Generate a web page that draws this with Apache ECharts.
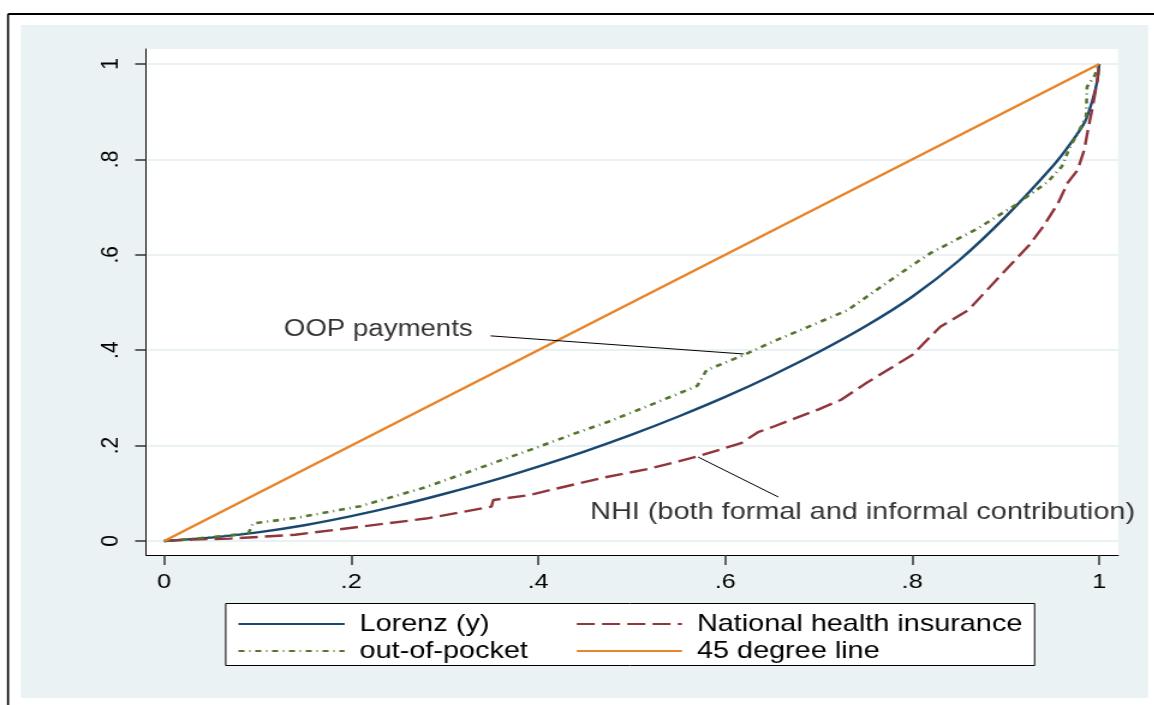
<!DOCTYPE html>
<html><head><meta charset="utf-8">
<script src="https://cdn.jsdelivr.net/npm/echarts@6/dist/echarts.min.js"></script>
<style>
html,body{margin:0;padding:0;background:#fff;overflow:hidden;}
#wrap{width:1154px;height:705px;overflow:hidden;position:relative;background:#fff;}
#chart{position:absolute;left:0;top:0;height:705px;transform-origin:0 0;}
</style></head><body>
<div id="wrap"><div id="chart"></div></div>
<script>
// ---- data ----
const xTicks = [0, 0.2, 0.4, 0.6, 0.8, 1];
const yTicks = [0, 0.2, 0.4, 0.6, 0.8, 1];
const seriesNames = ['Lorenz (y)', 'National health insurance', 'out-of-pocket', '45 degree line'];
const lorenzX = [0,0.05,0.1,0.15,0.2,0.25,0.3,0.35,0.4,0.45,0.5,0.55,0.6,0.65,0.7,0.75,0.8,0.85,0.9,0.95,0.97,0.985,0.993,0.998,1];
const lorenzY = [0,0.007,0.018,0.033,0.052,0.074,0.099,0.126,0.156,0.188,0.223,0.261,0.302,0.347,0.396,0.45,0.512,0.588,0.68,0.785,0.835,0.88,0.925,0.965,1];
const oopX = [0,0.03,0.06,0.09,0.095,0.14,0.21,0.28,0.35,0.40,0.44,0.475,0.525,0.57,0.58,0.62,0.65,0.69,0.73,0.8,0.82,0.87,0.91,0.945,0.96,0.968,0.979,0.986,0.987,0.995,1];
const oopY = [0,0.004,0.01,0.016,0.037,0.048,0.073,0.113,0.162,0.197,0.226,0.25,0.289,0.325,0.358,0.39,0.417,0.45,0.483,0.578,0.604,0.655,0.704,0.753,0.785,0.823,0.862,0.89,0.952,0.975,1];
const nhiX = [0,0.03,0.07,0.14,0.21,0.28,0.35,0.352,0.39,0.42,0.47,0.52,0.57,0.617,0.635,0.652,0.7,0.724,0.75,0.8,0.83,0.86,0.88,0.9,0.925,0.94,0.956,0.966,0.977,0.984,0.988,0.993,0.998,1];
const nhiY = [0,0.003,0.005,0.013,0.03,0.047,0.072,0.086,0.096,0.11,0.133,0.152,0.177,0.205,0.228,0.24,0.276,0.296,0.33,0.39,0.449,0.484,0.526,0.568,0.62,0.659,0.708,0.75,0.778,0.82,0.862,0.91,0.966,1];
const diagX = [0, 1];
const diagY = [0, 1];
const annotTexts = ['OOP payments', 'NHI (both formal and informal contribution)'];
const annotTextAt = [[0.229, 0.442], [0.747, 0.061]];
const annotLineFrom = [[0.349, 0.43], [0.571, 0.176]];
const annotLineTo = [[0.62, 0.392], [0.657, 0.092]];

// ---- rendering ----
const S = 1.2;              // horizontal stretch of the reference picture
const W = 1154 / S;
const el = document.getElementById('chart');
el.style.width = W + 'px';
el.style.transform = 'scaleX(' + S + ')';
const FONT = '"Liberation Sans", Arial, sans-serif';
const zip = (a, b) => a.map((v, i) => [v, b[i]]);
const fmt = v => (v === 0 ? '0' : v === 1 ? '1' : String(+v.toFixed(1)).replace(/^0/, ''));
const X = px => px / S;

const chart = echarts.init(el, null, { renderer: 'canvas', width: W, height: 705 });
const lineBase = { type: 'line', symbol: 'none', showSymbol: false, animation: false, z: 3 };
const legendBase = {
  orient: 'vertical', top: 612, itemHeight: 14, itemGap: 3, padding: 0,
  selectedMode: false, itemStyle: { opacity: 0 }
};
const option = {
  animation: false,
  backgroundColor: 'transparent',
  textStyle: { fontFamily: FONT },
  graphic: [
    { type: 'rect', z: -20, silent: true, shape: { x: X(21), y: 25, width: X(1126), height: 673 }, style: { fill: '#EAF2F3' } },
    { type: 'line', z: -10, silent: true, shape: { x1: X(8), y1: 14, x2: W, y2: 14 }, style: { stroke: '#000', lineWidth: 2.2 } },
    { type: 'line', z: -10, silent: true, shape: { x1: X(8), y1: 14, x2: X(8), y2: 705 }, style: { stroke: '#000', lineWidth: 2 / S } },
    { type: 'rect', z: -5, silent: true, shape: { x: X(225.5), y: 603.5, width: X(808), height: 62 }, style: { fill: '#fff', stroke: '#000', lineWidth: 1 } }
  ],
  grid: { left: X(146), right: W - X(1117), top: 49, bottom: 150, show: true, backgroundColor: '#fff', borderWidth: 0, containLabel: false },
  xAxis: {
    type: 'value', min: -0.0193, max: 1.0203,
    axisLine: { onZero: false, lineStyle: { color: '#000', width: 1.2 } },
    axisTick: { show: true, customValues: xTicks, length: 10, lineStyle: { color: '#333', width: 1.5 } },
    axisLabel: { customValues: xTicks, formatter: fmt, fontSize: 21, color: '#000', margin: 17, fontFamily: FONT },
    splitLine: { show: false }
  },
  yAxis: {
    type: 'value', min: -0.0294, max: 1.0314,
    axisLine: { onZero: false, lineStyle: { color: '#000', width: 1 } },
    axisTick: { show: true, customValues: yTicks, length: X(11), lineStyle: { color: '#333', width: 1.5 } },
    axisLabel: { customValues: yTicks, formatter: fmt, fontSize: 21, color: '#000', rotate: 90, margin: 19, fontFamily: FONT },
    splitLine: { show: true, lineStyle: { color: '#EAF2F3', width: 2 } }
  },
  legend: [
    Object.assign({}, legendBase, { data: [seriesNames[0], seriesNames[2]], left: X(237), itemWidth: X(106),
      textStyle: { fontSize: 24, lineHeight: 22, color: '#000', fontFamily: FONT, padding: [0, 0, 0, X(15) - 5] } }),
    Object.assign({}, legendBase, { data: [seriesNames[1], seriesNames[3]], left: X(575), itemWidth: X(105),
      textStyle: { fontSize: 24, lineHeight: 22, color: '#000', fontFamily: FONT, padding: [0, 0, 0, X(15) - 5] } })
  ],
  series: [
    Object.assign({}, lineBase, { name: seriesNames[0], data: zip(lorenzX, lorenzY), smooth: 0.25,
      lineStyle: { color: '#1A476F', width: 2.4, type: 'solid' }, itemStyle: { color: '#1A476F' } }),
    Object.assign({}, lineBase, { name: seriesNames[1], data: zip(nhiX, nhiY),
      lineStyle: { color: '#90353B', width: 2.4, type: [15, 6] }, itemStyle: { color: '#90353B' } }),
    Object.assign({}, lineBase, { name: seriesNames[2], data: zip(oopX, oopY),
      lineStyle: { color: '#55752F', width: 2.6, type: [5, 4, 1, 4] }, itemStyle: { color: '#55752F' } }),
    Object.assign({}, lineBase, { name: seriesNames[3], data: zip(diagX, diagY),
      lineStyle: { color: '#E8852A', width: 2.4, type: 'solid' }, itemStyle: { color: '#E8852A' } }),
    {
      name: 'annotations', type: 'scatter', symbolSize: 0, silent: true, animation: false, z: 5,
      data: annotTexts.map((t, i) => ({ value: [annotTextAt[i][0], annotTextAt[i][1], t] })),
      label: { show: true, position: 'inside', formatter: p => p.value[2], color: '#000', fontSize: 23, fontFamily: FONT },
      markLine: {
        silent: true, animation: false, symbol: ['none', 'none'],
        lineStyle: { color: '#000', width: 1, type: 'solid' }, label: { show: false },
        data: annotLineFrom.map((f, i) => [{ coord: f }, { coord: annotLineTo[i] }])
      }
    }
  ]
};
option.series[4].data[1].label = { fontSize: 24 };
chart.setOption(option);
</script>
</body></html>
